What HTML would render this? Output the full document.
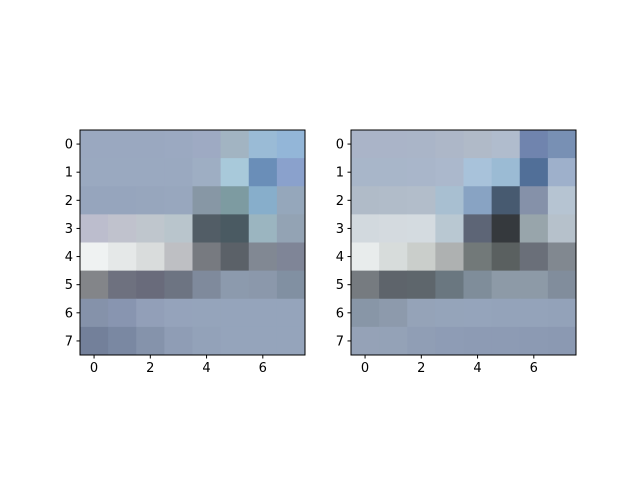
<!DOCTYPE html>
<html><head><meta charset="utf-8"><style>
body{margin:0;background:#fff;}
svg text{font-family:"DejaVu Sans","Liberation Sans",sans-serif;font-size:13px;fill:#000;}
</style></head><body>
<svg id="fig" width="640" height="480"></svg>
<script>
const rowLabels=["0","1","2","3","4","5","6","7"];
const colTicks=[0,2,4,6];
const leftImage=[
["#9aa8c0","#9aa8c0","#9aa8c0","#9ba9c1","#9eaac3","#a2b4c2","#9abbd6","#93b6d8"],
["#9aa9c0","#9aa9c0","#9aa9c0","#9aa9c0","#9eaec3","#a8c9da","#6a8eb8","#8aa1cc"],
["#96a5bd","#96a5bd","#97a6bd","#98a7be","#8797a5","#7d9ba1","#87aecb","#95a7bb"],
["#bcbdcd","#c0c2cd","#bfc6cd","#b9c5cc","#525d66","#4a5a62","#9bb5c0","#93a3b4"],
["#eff2f2","#e5e8e8","#d9dcdc","#bebfc3","#777a80","#5b6168","#818893","#7f8597"],
["#838589","#6e717f","#696b7b","#6d7482","#7f8a9c","#8c9aad","#8b98ab","#8190a2"],
["#8592aa","#8895b0","#929fb8","#95a3bb","#95a4bb","#95a4bb","#95a4bb","#95a4bb"],
["#73809a","#7a88a2","#8593ab","#8f9db5","#93a2b9","#95a4bb","#95a4bb","#95a4bb"]];
const rightImage=[
["#aab4c8","#aab4c8","#aab5c8","#adb7c8","#b0bac8","#b0bccd","#7084ae","#7890b4"],
["#a8b6c9","#a8b6c9","#a9b6ca","#abb8cc","#a8c2da","#9bbbd4","#516f98","#9eb0cb"],
["#b0bbc8","#b1bcc9","#b2bdca","#a8bfd1","#88a3c3","#475a70","#8591a9","#b6c4d2"],
["#d2d9de","#d4dadf","#d4dbe0","#b9c8d2","#5d6576","#35393d","#98a5ab","#b6c1cb"],
["#e8ecec","#d7dcdb","#cacecb","#aeb1b1","#727979","#5a6060","#6a6f79","#818890"],
["#767b80","#5e646b","#5e666c","#6a7780","#7f8d9a","#8d9aa7","#8d9aa7","#818d9c"],
["#8896a7","#8d9aac","#95a3b8","#95a4ba","#95a4bb","#94a3ba","#94a3ba","#93a2b9"],
["#95a2b7","#94a2b7","#909eb5","#8e9cb5","#8d9bb4","#8d9bb4","#8c9ab3","#8b99b2"]];
const NS="http://www.w3.org/2000/svg";
const svg=document.getElementById('fig');
function mk(t,a,p){const e=document.createElementNS(NS,t);for(const k in a)e.setAttribute(k,a[k]);(p||svg).appendChild(e);return e;}
function draw(img,x0,name){
  const y0=130,W=225,n=8,cs=W/n;
  const sx=v=>x0+(v+0.5)*cs, sy=v=>y0+(v+0.5)*cs;
  const g=mk('g',{});
  
  
  img.forEach((row,r)=>row.forEach((c,ci)=>{
    const rc=mk('rect',{x:sx(ci)-cs/2,y:sy(r)-cs/2,width:cs+0.5,height:cs+0.5,fill:c},g);
    
    
  }));
  const fr=mk('rect',{x:x0,y:y0,width:W,height:W,fill:'none',stroke:'#000','stroke-width':1},g);
  
  
  colTicks.forEach(t=>{
    mk('line',{x1:sx(t),x2:sx(t),y1:y0+W,y2:y0+W+3.5,stroke:'#000'},g);
    const tx=mk('text',{x:sx(t),y:y0+W+17,'text-anchor':'middle'},g);tx.textContent=t;
    
    
  });
  rowLabels.forEach((l,i)=>{
    mk('line',{x1:x0-3.5,x2:x0,y1:sy(i),y2:sy(i),stroke:'#000'},g);
    const tx=mk('text',{x:x0-7,y:sy(i)+4.5,'text-anchor':'end'},g);tx.textContent=l;
    
    
  });
}
draw(leftImage,80,'left-heatmap');
draw(rightImage,351,'right-heatmap');
</script>
</body></html>
